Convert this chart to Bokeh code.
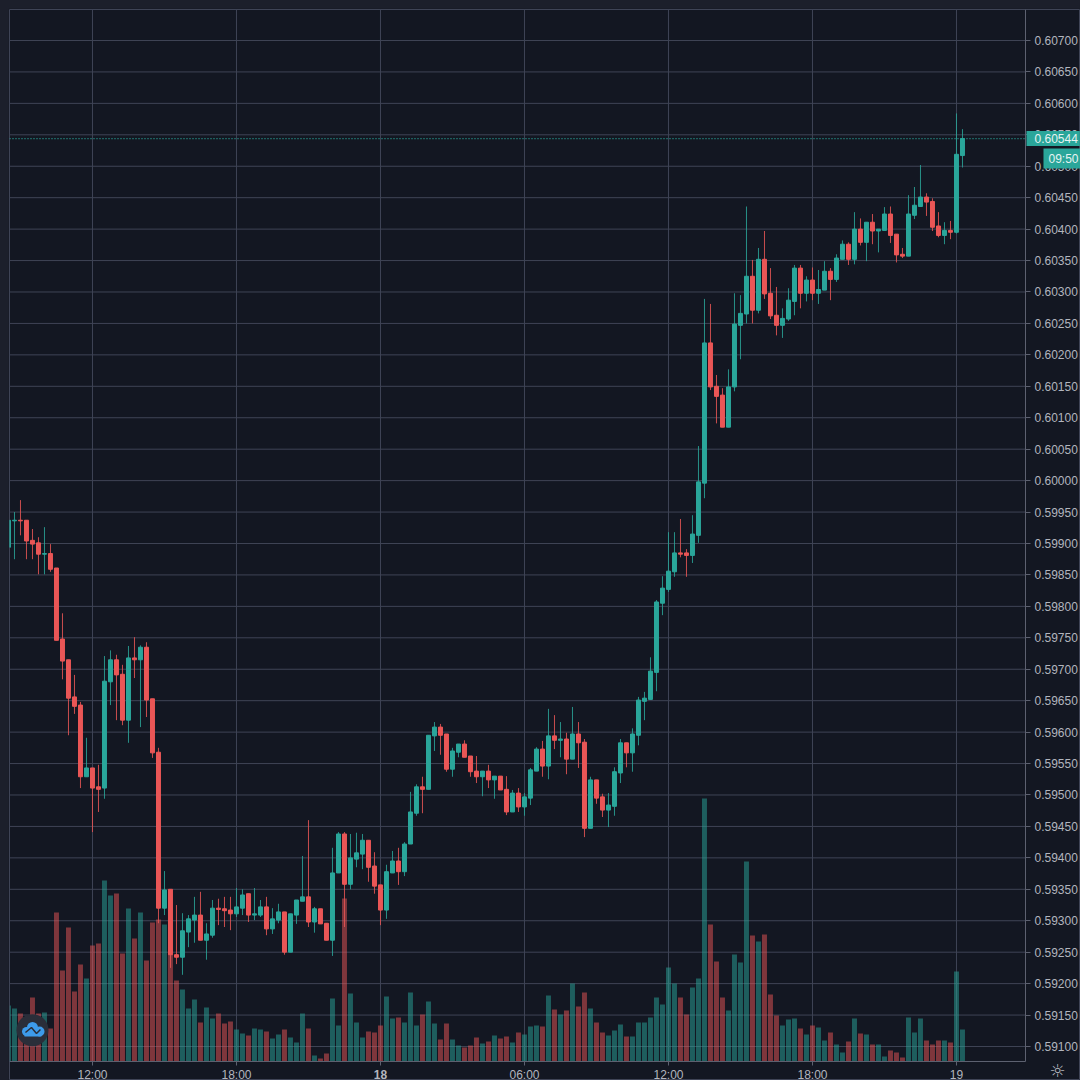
import numpy as np
from bokeh.embed import file_html
from bokeh.models import ColumnDataSource, FixedTicker, Label, LinearAxis, PrintfTickFormatter, Range1d
from bokeh.plotting import figure
from bokeh.resources import INLINE

# 15-minute candles, prices in 1e-5 units, index 0 = 12:00
opens = [59894,59936,59937,59937,59905,59901,59883,59884,59861,59748,
 59715,59656,59643,59529,59543,59513,59511,59680,59715,59692,
 59619,59718,59715,59735,59653,59568,59320,59350,59246,59242,
 59282,59301,59309,59269,59277,59320,59319,59317,59311,59320,
 59343,59309,59309,59322,59287,59301,59314,59250,59309,59331,
 59338,59298,59319,59296,59269,59376,59438,59358,59398,59406,
 59428,59387,59357,59317,59376,59395,59378,59422,59471,59513,
 59509,59594,59608,59597,59541,59568,59581,59562,59538,59529,
 59538,59524,59530,59509,59473,59503,59481,59495,59538,59573,
 59546,59594,59587,59589,59557,59597,59584,59447,59524,59497,
 59476,59482,59535,59583,59567,59595,59649,59652,59695,59805,
 59827,59855,59885,59885,59881,59913,59996,60219,60150,60136,
 60085,60149,60247,60265,60325,60271,60352,60298,60263,60247,
 60257,60285,60338,60298,60319,60298,60303,60333,60320,60352,
 60376,60352,60400,60379,60411,60397,60398,60424,60392,60360,
 60357,60422,60436,60451,60444,60405,60390,60398,60395,60517]
highs = [59937,59950,59969,59937,59923,59910,59926,59899,59861,59789,
 59715,59691,59648,59591,59543,59548,59721,59730,59723,59707,
 59737,59751,59738,59743,59653,59575,59379,59350,59325,59312,
 59309,59338,59346,59296,59333,59335,59338,59338,59352,59350,
 59343,59352,59333,59338,59320,59327,59314,59311,59333,59403,
 59460,59322,59319,59296,59416,59441,59441,59438,59440,59438,
 59428,59409,59357,59389,59411,59416,59425,59505,59517,59529,
 59595,59616,59613,59597,59575,59581,59587,59562,59562,59538,
 59548,59530,59530,59530,59508,59511,59503,59543,59576,59586,
 59637,59627,59616,59599,59640,59616,59589,59529,59524,59502,
 59503,59544,59589,59583,59606,59656,59664,59719,59810,59848,
 59918,59918,59939,59891,59945,60055,60289,60281,60168,60147,
 60177,60298,60295,60436,60351,60370,60397,60338,60308,60274,
 60306,60343,60343,60325,60339,60335,60349,60338,60360,60382,
 60379,60427,60417,60411,60424,60400,60435,60436,60392,60370,
 60454,60467,60502,60457,60449,60427,60411,60413,60584,60559]
lows = [59894,59875,59913,59875,59875,59851,59851,59855,59746,59684,
 59595,59629,59511,59529,59441,59473,59494,59643,59619,59611,
 59583,59686,59608,59624,59559,59296,59309,59225,59231,59214,
 59258,59265,59269,59238,59273,59293,59290,59285,59306,59309,
 59298,59301,59306,59277,59279,59296,59246,59250,59295,59331,
 59290,59281,59295,59269,59244,59376,59290,59350,59385,59382,
 59362,59343,59293,59303,59376,59357,59371,59422,59467,59471,
 59509,59570,59564,59537,59529,59560,59560,59529,59519,59498,
 59511,59494,59508,59468,59473,59473,59467,59484,59538,59529,
 59525,59573,59560,59533,59557,59543,59433,59447,59486,59465,
 59449,59467,59519,59544,59537,59579,59619,59652,59665,59786,
 59823,59847,59878,59847,59869,59901,59972,60144,60091,60085,
 60085,60142,60193,60250,60250,60266,60289,60257,60231,60227,
 60254,60263,60274,60285,60287,60281,60303,60287,60316,60352,
 60343,60344,60374,60349,60376,60363,60398,60378,60347,60354,
 60357,60416,60436,60421,60397,60387,60376,60384,60393,60498]
closes = [59937,59937,59936,59904,59899,59883,59884,59859,59746,59713,
 59654,59641,59529,59543,59511,59509,59681,59715,59691,59619,
 59718,59715,59735,59651,59567,59320,59349,59246,59242,59284,
 59303,59309,59269,59279,59320,59318,59316,59311,59322,59341,
 59309,59311,59322,59287,59303,59314,59250,59311,59333,59338,
 59298,59319,59295,59269,59376,59438,59358,59400,59408,59428,
 59385,59355,59317,59378,59395,59378,59422,59473,59513,59509,
 59595,59608,59595,59541,59570,59581,59560,59537,59529,59538,
 59524,59530,59508,59473,59503,59481,59497,59540,59573,59546,
 59594,59587,59589,59557,59597,59583,59447,59524,59495,59476,
 59484,59537,59583,59567,59597,59651,59654,59697,59807,59829,
 59856,59885,59883,59881,59915,59998,60219,60149,60134,60085,
 60149,60249,60266,60325,60271,60352,60297,60262,60247,60258,
 60287,60338,60298,60319,60298,60304,60333,60320,60354,60376,
 60352,60400,60379,60411,60397,60400,60424,60390,60359,60357,
 60424,60438,60451,60443,60403,60390,60398,60395,60519,60544]
volumes = [56,53,48,35,64,48,49,33,149,91,
 134,70,97,83,116,118,181,166,168,108,
 153,123,149,101,139,142,137,112,81,72,
 53,62,39,54,43,48,38,40,32,28,
 26,33,32,30,23,27,32,24,19,48,
 33,6,3,8,63,36,163,68,39,24,
 30,29,36,65,43,44,39,69,36,47,
 60,38,22,38,22,16,14,16,24,18,
 20,26,23,25,19,29,27,35,36,35,
 66,52,47,51,78,55,69,53,39,29,
 26,31,37,25,25,39,39,44,64,57,
 94,78,64,47,74,83,263,137,100,64,
 51,107,99,200,126,120,127,67,46,36,
 42,43,33,27,36,34,21,29,17,9,
 20,43,28,27,17,17,5,11,9,4,
 44,29,43,21,17,21,21,19,90,32]
FIRST_INDEX = -14
PRICE_UNIT = 1e-5
LAST_PRICE = 0.60544
time_ticks = [0, 24, 48, 72, 96, 120, 144]
time_labels = ["12:00", "18:00", "18", "06:00", "12:00", "18:00", "19"]
price_ticks = [round(0.591 + 0.0005 * i, 4) for i in range(33)]

BG = "#131722"
PAGE = "#1c1f2b"
GRID = "#3f4456"
AXIS = "#5d6170"
TEXT = "#b2b5be"
UP = "#2aa69a"
DOWN = "#ea5656"
FONT = "Liberation Sans"
BADGE = "#2a2e39"
LOGO = "#3d9bea"

# plot area limits; the axes sit inside a frame that fills the whole canvas
X_LEFT, X_AXIS, X_RIGHT = -13.83, 155.5, 164.67
Y_BOTTOM, Y_AXIS, Y_TOP = 0.590459, 0.590761, 0.607493

o, h, l, c = [np.array(a) * PRICE_UNIT for a in (opens, highs, lows, closes)]
x = np.arange(FIRST_INDEX, FIRST_INDEX + len(opens))
colors = [UP if cc >= oo else DOWN for oo, cc in zip(opens, closes)]
src = ColumnDataSource(dict(x=x, o=o, h=h, l=l, c=c, v=volumes, color=colors,
                            top=np.maximum(o, c), bottom=np.minimum(o, c)))

p = figure(width=1072, height=1072, output_backend="svg", toolbar_location=None,
           x_range=Range1d(X_LEFT, X_RIGHT), y_range=Range1d(Y_BOTTOM, Y_TOP),
           x_axis_location=None, y_axis_location=None,
           min_border_left=1, min_border_top=1, min_border_right=0, min_border_bottom=0,
           background_fill_color=BG, border_fill_color=BG,
           outline_line_color=GRID, outline_line_width=1)
p.center = []
p.extra_y_ranges = {"vol": Range1d(-19, 1052)}

xaxis = LinearAxis(ticker=FixedTicker(ticks=time_ticks), fixed_location=Y_AXIS, bounds=(X_LEFT, X_AXIS),
                   major_label_overrides={t: ("" if s == "18" else s) for t, s in zip(time_ticks, time_labels)})
yaxis = LinearAxis(ticker=FixedTicker(ticks=price_ticks), fixed_location=X_AXIS, bounds=(Y_AXIS, Y_TOP),
                   formatter=PrintfTickFormatter(format="%.5f"))
for ax in (xaxis, yaxis):
    ax.axis_line_color = AXIS
    ax.major_tick_line_color = AXIS
    ax.minor_tick_line_color = None
    ax.major_tick_in = 0
    ax.major_label_text_color = TEXT
    ax.major_label_text_font = FONT
    ax.major_label_text_font_size = "12px"
xaxis.major_tick_out = 4
xaxis.major_label_standoff = 2
xaxis.major_label_text_line_height = 0.9
yaxis.major_tick_out = 5
yaxis.major_label_standoff = 4
p.add_layout(xaxis, "below")
p.add_layout(yaxis, "right")

# grid lines stop at the axes
p.segment(x0=X_LEFT, x1=X_AXIS, y0=price_ticks, y1=price_ticks, line_color=GRID, line_width=1)
p.segment(x0=time_ticks, x1=time_ticks, y0=Y_AXIS, y1=Y_TOP, line_color=GRID, line_width=1)

p.vbar(x="x", top="v", bottom=0, width=0.83, color="color", fill_alpha=0.5, line_alpha=0,
       source=src, y_range_name="vol")
p.segment(x0="x", y0="h", x1="x", y1="l", color="color", line_width=1, line_alpha=0.85, source=src)
p.vbar(x="x", top="top", bottom="bottom", width=0.66, color="color", line_width=1, source=src)

p.segment(x0=[X_LEFT], x1=[X_AXIS], y0=[LAST_PRICE], y1=[LAST_PRICE], line_color=UP, line_dash="1 2", line_width=1.4)

p.add_layout(Label(x=48, y=0.590547, text="18", text_color=TEXT, text_font=FONT, text_font_size="12px",
                   text_font_style="bold", text_align="center", text_baseline="middle", text_line_height=0.9))
p.add_layout(Label(x=155.67, y=LAST_PRICE, text="0.60544", text_color="#e6f4f2", text_font=FONT,
                   text_font_size="12px", text_baseline="middle", background_fill_color=UP,
                   padding=(8, 2, 3, 3)))
p.add_layout(Label(x=158.5, y=0.605123, text="09:50", text_color="#e6f4f2", text_font=FONT,
                   text_font_size="12px", text_baseline="middle", background_fill_color=UP,
                   padding=(5, 3, 3, 3)))
p.add_layout(Label(x=160.8, y=0.59062, text="\u263c", text_color=TEXT, text_font="DejaVu Sans",
                   text_font_size="18px", text_align="center", text_baseline="middle", text_line_height=0.9))

# logo badge
p.scatter([-10], [0.59126], size=32, color=BADGE, line_alpha=0)
p.scatter([-10, -11, -8.83], [0.591302, 0.591239, 0.591239], size=[11, 9, 10], color=LOGO, line_alpha=0)
p.quad(left=[-11.33], right=[-8.5], top=[0.591239], bottom=[0.591159], color=LOGO, line_alpha=0)
p.line([-11.17, -10.17, -9.33, -8.67], [0.591223, 0.591302, 0.591207, 0.591270], line_color=BADGE, line_width=1.5)

html = file_html(p, INLINE)
html = html.replace("</head>", "<style>html,body{margin:0;padding:0;background:%s}body{padding:8px 0 0 8px}</style></head>" % PAGE, 1)
open("out.html", "w").write(html)
